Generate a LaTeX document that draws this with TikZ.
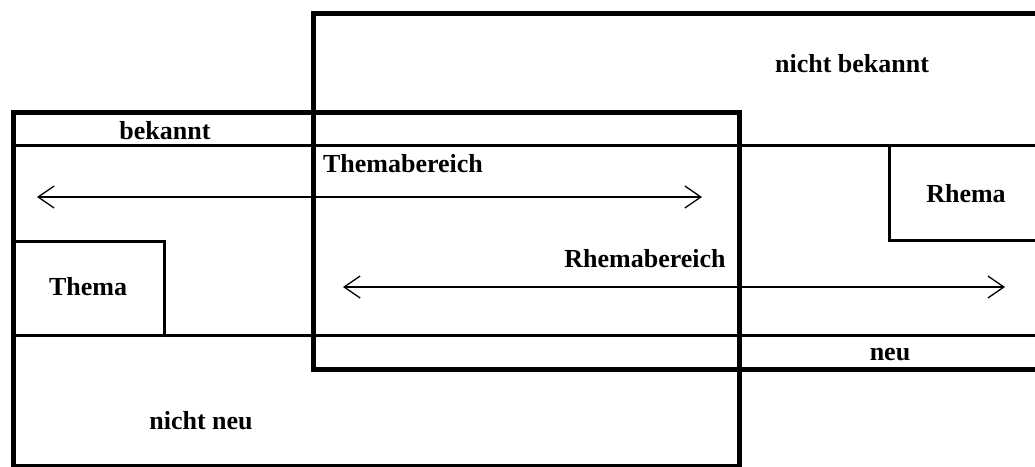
\documentclass[tikz,border=0pt]{standalone}
\usepackage{fontspec}
\setmainfont{Liberation Serif}
\usetikzlibrary{arrows.meta}
\tikzset{
  heavy/.style={line width=5pt},
  light/.style={line width=3pt},
  lbl/.style={anchor=base, inner sep=0pt, font=\fontsize{26}{30}\selectfont\bfseries},
  spanarrow/.style={line width=1.3pt, {Straight Barb[length=16pt,width=22pt,line width=1.3pt]}-{Straight Barb[length=16pt,width=22pt,line width=1.3pt]}}
}
\begin{document}
\begin{tikzpicture}[x=1pt,y=-1pt]
\useasboundingbox (0,0) rectangle (1035,466);
\clip (0,0) rectangle (1035,466);
% horizontal divisions
\draw[light] (13,145) -- (1040,145);
\draw[light] (13,335) -- (1040,335);
% Thema and Rhema boxes
\draw[light] (13,241) rectangle (164,335);
\draw[light] (889,145) rectangle (1045,240);
% the two overlapping regions
\draw[heavy] (13,112) rectangle (739,466);
\draw[heavy] (313,13) rectangle (1045,369);
% labels
\node[lbl] (nb) at (852,72) {nicht bekannt};
\node[lbl] (bk) at (165,139) {bekannt};
\node[lbl] (tb) at (403,172) {Themabereich};
\node[lbl] (rh) at (966,202) {Rhema};
\node[lbl] (rb) at (645,267) {Rhemabereich};
\node[lbl] (th) at (88,295) {Thema};
\node[lbl] (ne) at (890,360) {neu};
\node[lbl] (nn) at (201,429) {nicht neu};
% ranges
\coordinate (t1) at (37,197);
\coordinate (t2) at (702,197);
\coordinate (r1) at (343,287);
\coordinate (r2) at (1005,287);
\draw[spanarrow] (t1) -- (t2);
\draw[spanarrow] (r1) -- (r2);
\end{tikzpicture}
\end{document}
